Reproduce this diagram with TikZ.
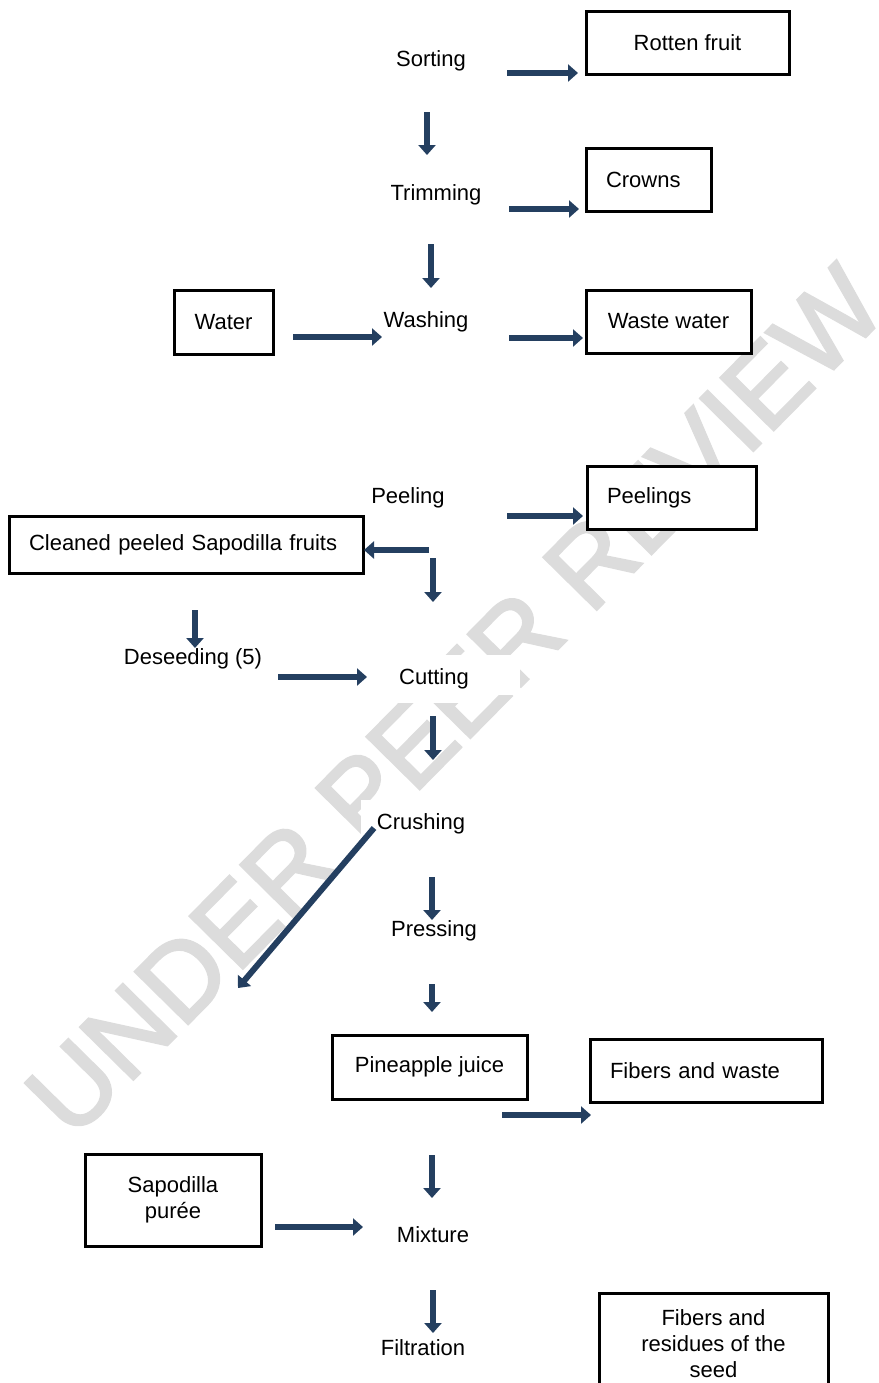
\documentclass[tikz,border=0pt]{standalone}
\usepackage{fontspec}
\setmainfont{Liberation Sans}
\newfontfamily\markfont[FakeBold=2.5]{Liberation Sans}
\usetikzlibrary{arrows.meta}

\definecolor{flowblue}{HTML}{243F60}
\definecolor{markgray}{HTML}{DCDCDC}

\tikzset{
  stage/.style={font=\fontsize{11}{13}\selectfont, fill=white, inner xsep=8pt, inner ysep=7pt},
  outbox/.style={draw, fill=white, line width=1.5pt, font=\fontsize{11}{13}\selectfont, align=center},
  leftbox/.style={outbox, align=left, inner xsep=10pt},
  flow/.style={flowblue, line width=3pt, -{Triangle[width=8.5pt,length=5pt]}},
  wmark/.style={text=markgray, font=\markfont\fontsize{54}{54}\selectfont, rotate=45.4}
}

\begin{document}
\begin{tikzpicture}[x=0.5pt, y=-0.5pt]
		\clip (0,0) rectangle (879,1383);

		% watermark behind everything
		\node[wmark] (wm) at (455,701) {UNDER PEER REVIEW};
		\fill[white] (377,655) rectangle (520,695);

		% Process steps
		\node[stage] (sort) at (431,61) {Sorting};
		\node[stage] (trim) at (436,195) {Trimming};
		\node[stage] (wash) at (426,322) {Washing};
		\node[stage] (peel) at (408,498) {Peeling};
		\node[stage] (deseed) at (193,659) {Deseeding (5)};
		\node[stage] (cut) at (434,679) {Cutting};
		\node[stage] (crush) at (421,824) {Crushing};
		\node[stage] (press) at (434,931) {Pressing};
		\node[stage] (mix) at (433,1235) {Mixture};
		\node[stage] (filt) at (423,1348) {Filtration};

		% Inputs and by-products in boxes
		\node[outbox, minimum width=101.5pt, minimum height=31.5pt] (rot) at (687.5,42.5) {Rotten fruit};
		\node[leftbox, text width=42.5pt, minimum height=31.5pt] (crown) at (648.5,179.5) {Crowns};
		\node[outbox, minimum width=49.5pt, minimum height=32pt] (water) at (223.5,322) {Water};
		\node[outbox, minimum width=82.5pt, minimum height=31.5pt] (waste) at (668.5,321.5) {Waste water};
		\node[leftbox, text width=64.5pt, minimum height=31.5pt] (peels) at (671.5,497.5) {Peelings};
		\node[leftbox, text width=157pt, minimum height=28.5pt] (clean) at (186,544.5) {Cleaned peeled Sapodilla fruits};
		\node[outbox, minimum width=97.5pt, minimum height=32pt] (pine) at (429.5,1067) {Pineapple juice};
		\node[leftbox, text width=96pt, minimum height=31.5pt] (fib) at (706,1070.5) {Fibers and waste};
		\node[outbox, minimum width=88pt, minimum height=46pt] (puree) at (173,1200) {Sapodilla\\pur\'ee};
		\node[outbox, minimum width=114.5pt, minimum height=51pt] (resid) at (713.5,1344) {Fibers and\\residues of the\\seed};

		% Arrow ends
		\coordinate (sortR) at (507,73);   \coordinate (rotIn) at (578,73);
		\coordinate (sortD) at (427,112);  \coordinate (trimIn) at (427,155);
		\coordinate (trimR) at (509,209);  \coordinate (crownIn) at (579,209);
		\coordinate (trimD) at (431,244);  \coordinate (washIn) at (431,288);
		\coordinate (waterR) at (293,337); \coordinate (washL) at (382,337);
		\coordinate (washR) at (509,338);  \coordinate (wasteIn) at (583,338);
		\coordinate (peelR) at (507,516);  \coordinate (peelsIn) at (583,516);
		\coordinate (peelL) at (429,550);  \coordinate (cleanIn) at (364,550);
		\coordinate (peelD) at (433,558);  \coordinate (cutTop) at (433,602);
		\coordinate (cleanD) at (195,610); \coordinate (deseedIn) at (195,648);
		\coordinate (deseedR) at (278,677);\coordinate (cutL) at (367,677);
		\coordinate (cutD) at (433,716);   \coordinate (crushIn) at (433,760);
		\coordinate (crushL) at (374,828); \coordinate (crushOut) at (238,988);
		\coordinate (crushD) at (432,877); \coordinate (pressIn) at (432,920);
		\coordinate (pressD) at (432,984); \coordinate (pineIn) at (432,1012);
		\coordinate (pineR) at (502,1115); \coordinate (fibIn) at (591,1115);
		\coordinate (pineD) at (432,1155); \coordinate (mixIn) at (432,1198);
		\coordinate (pureeR) at (275,1227);\coordinate (mixL) at (363,1227);
		\coordinate (mixD) at (433,1290);  \coordinate (filtIn) at (433,1333);

		% Draw the arrows
		\draw[flow] (sortR) -- (rotIn);
		\draw[flow] (sortD) -- (trimIn);
		\draw[flow] (trimR) -- (crownIn);
		\draw[flow] (trimD) -- (washIn);
		\draw[flow] (waterR) -- (washL);
		\draw[flow] (washR) -- (wasteIn);
		\draw[flow] (peelR) -- (peelsIn);
		\draw[flow] (peelL) -- (cleanIn);
		\draw[flow] (peelD) -- (cutTop);
		\draw[flow] (cleanD) -- (deseedIn);
		\draw[flow] (deseedR) -- (cutL);
		\draw[flow] (cutD) -- (crushIn);
		\draw[flow] (crushL) -- (crushOut);
		\draw[flow] (crushD) -- (pressIn);
		\draw[flow] (pressD) -- (pineIn);
		\draw[flow] (pineR) -- (fibIn);
		\draw[flow] (pineD) -- (mixIn);
		\draw[flow] (pureeR) -- (mixL);
		\draw[flow] (mixD) -- (filtIn);
	\end{tikzpicture}
\end{document}
